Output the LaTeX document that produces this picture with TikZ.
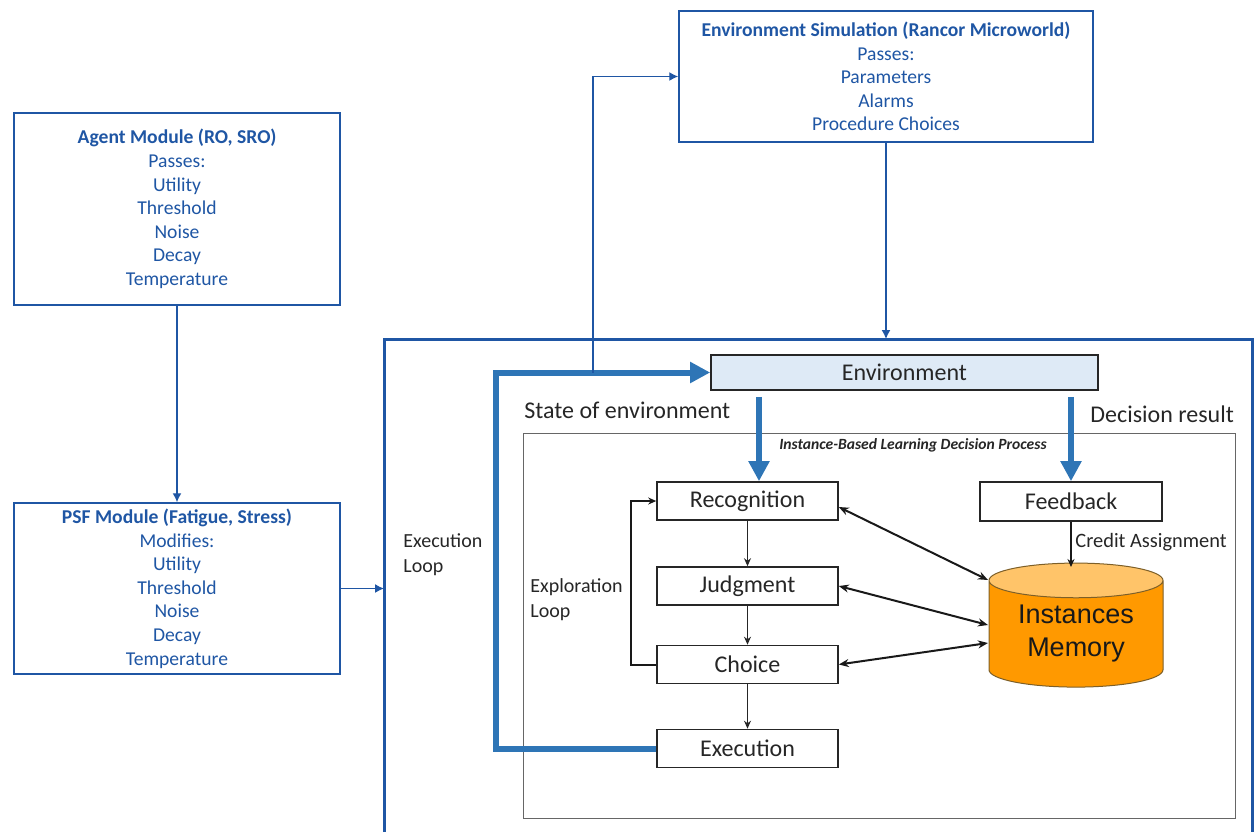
\documentclass[tikz,border=0pt]{standalone}
\usepackage{fontspec}
\setmainfont{Carlito}
\newfontfamily\memfont{Liberation Sans}
\usetikzlibrary{
	positioning				% relative placement
	, arrows.meta			% arrow tips
	, shapes.geometric		% cylinder
}
\definecolor{modblue}{RGB}{31,86,164}
\definecolor{loopblue}{RGB}{46,117,182}
\definecolor{envfill}{RGB}{222,234,246}
\definecolor{memfill}{RGB}{255,153,0}
\definecolor{memtop}{RGB}{255,196,105}
\definecolor{memline}{RGB}{125,95,40}

\begin{document}
\begin{tikzpicture}[x=0.5pt, y=-0.5pt
		, module/.style={draw=modblue, line width=0.75pt, text=modblue, align=center,
			font=\fontsize{9.8}{11.8}\selectfont, minimum width=163pt, inner sep=0pt}
		, modlink/.style={draw=modblue, line width=0.7pt, -{Latex[length=4.5pt,width=4.5pt]}}
		, outerbox/.style={draw=modblue, line width=1.5pt}
		, stepbox/.style={draw=black!85, line width=0.8pt, text=black!85,
			minimum width=90.5pt, minimum height=19pt, inner sep=0pt,
			font=\fontsize{12}{14}\selectfont}
		, steparrow/.style={draw=black!85, line width=0.5pt, -{Stealth[length=4pt,width=3.5pt]}}
		, memlink/.style={draw=black!90, line width=1pt, {Stealth[length=5pt,width=4pt]}-{Stealth[length=5pt,width=4pt]}}
		, flow/.style={draw=loopblue, line width=3pt, -{Triangle[length=10pt,width=10pt]}}
		, label/.style={text=black!85, inner sep=0pt}
		, memory/.style={cylinder, shape border rotate=90, aspect=0.3, draw=memline, line width=0.5pt,
			cylinder uses custom fill, cylinder body fill=memfill, cylinder end fill=memtop,
			minimum width=87pt, minimum height=62pt, inner sep=0pt, align=center, text=black!90,
			font=\memfont\fontsize{13.5}{16.5}\selectfont}
	]
	\useasboundingbox (0,0) rectangle (1255,832);

	% Draw the three module boxes
	\node [module, minimum height=65.5pt, minimum width=207pt] (envsim) at (886,76.5)
		{\textbf{Environment Simulation (Rancor Microworld)}\\Passes:\\Parameters\\Alarms\\Procedure Choices};
	\node [module, minimum height=96pt] (agent) at (177,209)
		{\textbf{Agent Module (RO, SRO)}\\Passes:\\Utility\\Threshold\\Noise\\Decay\\Temperature};
	\node [module, minimum height=85.5pt] (psf) at (177,588.5)
		{\textbf{PSF Module (Fatigue, Stress)}\\Modifies:\\Utility\\Threshold\\Noise\\Decay\\Temperature};

	% Outer model frame, cut by the bottom of the page
	\draw [outerbox] (384,832) |- (1252,339) -- (1252,832);
	\coordinate (outtop) at (885,339);
	\coordinate (outleft) at (384,588.5);

	\draw [modlink] (agent) -- (psf);
	\draw [modlink] (psf.east) -- (outleft);
	\draw [modlink] (envsim.south) -- (envsim.south |- outtop);

	% Instance-based learning frame
	\node [draw=black!60, line width=0.5pt, minimum width=356pt, minimum height=192.5pt, inner sep=0pt] (ibl) at (879,625.5) {};
	\node [label, font=\fontsize{7.8}{9}\selectfont\bfseries\itshape] (ibltitle) at (913,445)
		{Instance-Based Learning Decision Process};

	\node [stepbox, fill=envfill, minimum width=193.5pt, minimum height=17.5pt] (env) at (904.5,372.5) {Environment};

	% Loop through the decision steps
	\foreach \name/\step/\y in {recog/Recognition/501, judg/Judgment/586, choice/Choice/664.5, exec/Execution/748.5} {
		\node [stepbox] (\name) at (747.5,\y) {\step};
	};
	\foreach \a/\b in {recog/judg, judg/choice, choice/exec} {
		\draw [steparrow] (\a) -- (\b);
	};
	\node [stepbox, minimum width=91pt, minimum height=19.5pt] (fb) at (1071,501.5) {Feedback};

	\node [memory] (mem) at (1076,634) {Instances\\Memory};
	\coordinate (memtopc) at ([yshift=33.5pt]mem.center);

	% Labels
	\node [label, font=\fontsize{12}{14}\selectfont, anchor=west] (statelbl) at (524,410) {State of environment};
	\node [label, font=\fontsize{12}{14}\selectfont, anchor=west] (reslbl) at (1090,414) {Decision result};
	\node [label, font=\fontsize{10}{12.5}\selectfont, align=left, anchor=west] (execlbl) at (403,554.5) {Execution\\Loop};
	\node [label, font=\fontsize{10}{12.5}\selectfont, align=left, anchor=west] (explbl) at (530,599.5) {Exploration\\Loop};
	\node [label, font=\fontsize{10.2}{12}\selectfont, anchor=west] (creditlbl) at (1075,542) {Credit Assignment};

	% Blue flows from and to the environment
	\draw [flow] ([xshift=-72.75pt,yshift=-3pt]env.south) -- ([xshift=5.75pt]recog.north);
	\draw [flow] ([yshift=-3pt]env.south -| fb.north) -- (fb.north);
	\draw [flow] (exec.west) -- ++(-160,0) |- (env.west);
	\coordinate (tap) at (593,372.5);
	\draw [modlink] (tap) |- (envsim.west);

	% Exploration loop and memory links
	\draw [draw=black!90, line width=1pt, -{Stealth[length=4pt,width=3.5pt]}] (choice.west) -- ++(-25,0) |- (recog.west);
	\draw [draw=black!90, line width=1pt, -{Stealth[length=4pt,width=3.5pt]}] (fb.south) -- (fb.south |- memtopc);
	\draw [memlink] ([yshift=-3pt]recog.east) -- ([xshift=-44pt,yshift=27pt]mem.center);
	\draw [memlink] (judg.east) -- ([xshift=-44pt,yshift=4.5pt]mem.center);
	\draw [memlink] (choice.east) -- ([xshift=-44pt,yshift=-4.5pt]mem.center);
\end{tikzpicture}
\end{document}
